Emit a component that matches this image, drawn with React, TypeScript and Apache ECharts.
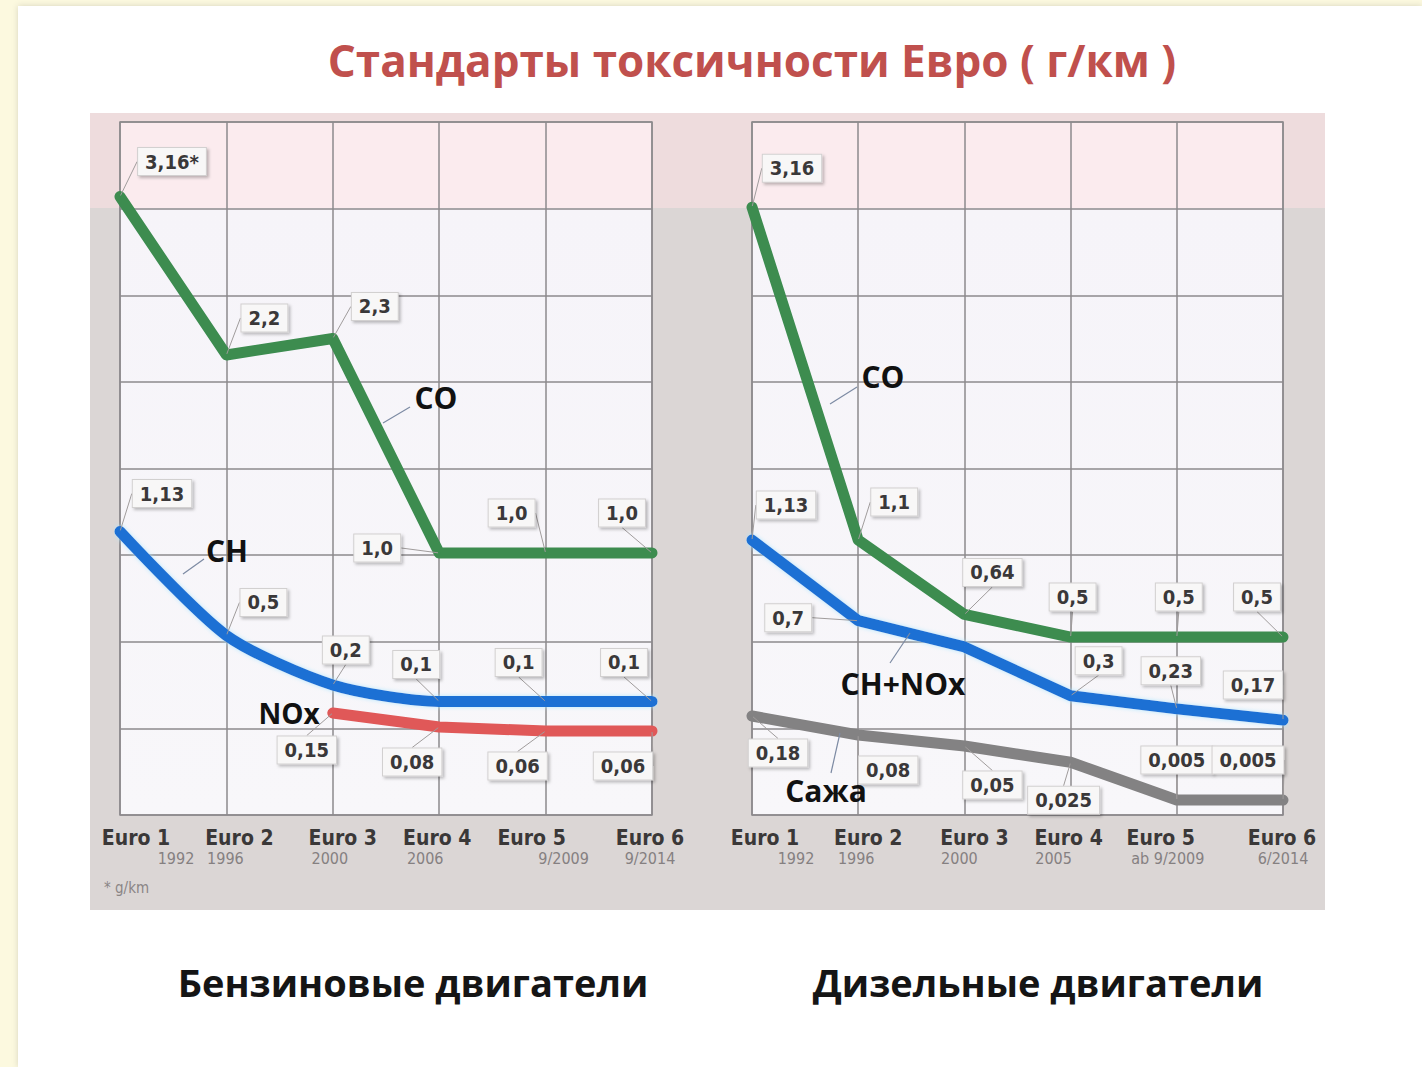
import React, { useEffect, useRef } from 'react';
import * as echarts from 'echarts';

// ---------- data ----------
const categories = ['Euro 1', 'Euro 2', 'Euro 3', 'Euro 4', 'Euro 5', 'Euro 6'];
const petrolYears = ['1992', '1996', '2000', '2006', '9/2009', '9/2014'];
const dieselYears = ['1992', '1996', '2000', '2005', 'ab 9/2009', '6/2014'];

const petrolCO = [3.16, 2.2, 2.3, 1.0, 1.0, 1.0];
const petrolCOLabels = ['3,16*', '2,2', '2,3', '1,0', '1,0', '1,0'];
const petrolCH = [1.13, 0.5, 0.2, 0.1, 0.1, 0.1];
const petrolCHLabels = ['1,13', '0,5', '0,2', '0,1', '0,1', '0,1'];
const petrolNOx = [null, null, 0.15, 0.08, 0.06, 0.06];
const petrolNOxLabels = ['', '', '0,15', '0,08', '0,06', '0,06'];

const dieselCO = [3.16, 1.1, 0.64, 0.5, 0.5, 0.5];
const dieselCOLabels = ['3,16', '1,1', '0,64', '0,5', '0,5', '0,5'];
const dieselCHNOx = [1.13, 0.7, 0.56, 0.3, 0.23, 0.17];
const dieselCHNOxLabels = ['1,13', '0,7', '', '0,3', '0,23', '0,17'];
const dieselSoot = [0.18, 0.08, 0.05, 0.025, 0.005, 0.005];
const dieselSootLabels = ['0,18', '0,08', '0,05', '0,025', '0,005', '0,005'];

// ---------- layout (label offsets, px) ----------
const offPetrolCO = [[52, -35], [38, -37], [42, -32], [-62, -5], [-34, -40], [-30, -40]];
const offPetrolCH = [[42, -38], [37, -33], [13, -35], [-23, -37], [-27, -39], [-28, -39]];
const offPetrolNOx = [[0, 0], [0, 0], [-26, 37], [-27, 35], [-28, 35], [-29, 35]];
const offDieselCO = [[40, -39], [36, -38], [28, -42], [2, -40], [2, -40], [-26, -40]];
const offDieselCHNOx = [[34, -35], [-70, -3], [0, 0], [28, -35], [-6, -38], [-30, -35]];
const offDieselSoot = [[26, 37], [30, 35], [28, 39], [-7, 38], [0, -40], [-35, -40]];

const petrolEuroShift = [16, 13, 10, -2, -14, -2];
const petrolYearShift = [56, -1, -3, -14, 18, -2];
const dieselEuroShift = [13, 10, 10, -2, -16, -1];
const dieselYearShift = [44, -2, -5, -17, -9, 0];

const NARROW = '"Liberation Sans Narrow", "Arial Narrow", "DejaVu Sans Condensed", sans-serif';
const SANS = '"Open Sans", "Noto Sans", "DejaVu Sans", sans-serif';
const GRIDLINE = '#8d8a8c';

function pad(dx: number) {
  return dx >= 0 ? [0, 0, 0, 2 * dx] : [0, -2 * dx, 0, 0];
}

function xAxisFor(gridIndex: number, years: string[], euroShift: number[], yearShift: number[]) {
  const rich: any = {};
  categories.forEach((_, i) => {
    rich['e' + i] = {
      fontFamily: NARROW, fontWeight: 'bold', fontSize: 21, color: '#3a3838',
      lineHeight: 23, padding: pad(euroShift[i]),
    };
    rich['y' + i] = {
      fontFamily: NARROW, fontSize: 16, color: '#858081',
      lineHeight: 19, padding: pad(yearShift[i]),
    };
  });
  return {
    gridIndex, type: 'category', boundaryGap: false, data: categories,
    axisLine: { show: false }, axisTick: { show: false },
    splitLine: { show: true, lineStyle: { color: GRIDLINE, width: 1.5 } },
    axisLabel: {
      margin: 11, interval: 0,
      formatter: (v: string, i: number) => `{e${i}|${v}}\n{y${i}|${years[i]}}`,
      rich,
    },
  };
}

function lineSeries(name: string, xi: number, yi: number, values: any[], labels: string[],
  offsets: number[][], color: string, smooth: number | boolean = false, glow = 'rgba(255,255,255,0)') {
  return {
    name, type: 'line', xAxisIndex: xi, yAxisIndex: yi,
    data: values.map((v, i) => (labels[i] ? v : { value: v, label: { show: false }, labelLine: { show: false } })),
    symbol: 'circle', symbolSize: 2, showSymbol: true,
    itemStyle: { color },
    smooth,
    lineStyle: { color, width: 11, cap: 'round', join: 'round', shadowColor: glow, shadowBlur: 4 },
    label: {
      show: true, position: 'inside',
      formatter: (p: any) => labels[p.dataIndex],
      fontFamily: NARROW, fontWeight: 'bold', fontSize: 20, color: '#3a3839',
      backgroundColor: '#f8f7f7', borderColor: '#d2d0d0', borderWidth: 1,
      padding: [4, 7, 3, 7],
      shadowColor: 'rgba(0,0,0,0.25)', shadowBlur: 3, shadowOffsetX: 2, shadowOffsetY: 2,
    },
    labelLayout: (p: any) => ({ dx: offsets[p.dataIndex][0], dy: offsets[p.dataIndex][1] }),
    labelLine: { show: true, lineStyle: { color: '#a09c9c', width: 1 } },
    z: 3,
  };
}

function text(x: number, y: number, t: string, size: number, fill: string, family = SANS, weight: any = 'bold', align = 'center') {
  return {
    type: 'text', x, y, z: 100,
    style: { text: t, fontSize: size, fontFamily: family, fontWeight: weight, fill, align, verticalAlign: 'middle' },
  };
}

function leader(x1: number, y1: number, x2: number, y2: number) {
  return { type: 'line', z: 50, shape: { x1, y1, x2, y2 }, style: { stroke: '#7c8aa3', lineWidth: 1.2 } };
}

const plotBg = {
  type: 'linear', x: 0, y: 0, x2: 0, y2: 1,
  colorStops: [
    { offset: 0, color: '#fbebee' }, { offset: 0.124, color: '#fbebee' },
    { offset: 0.125, color: '#f6f4f9' }, { offset: 1, color: '#f8f7fa' },
  ],
};

export default function App() {
  const ref = useRef<HTMLDivElement>(null);
  useEffect(() => {
    const chart = echarts.init(ref.current!, null, { renderer: 'svg' });
    chart.setOption({
      animation: false,
      backgroundColor: '#fcf9df',
      grid: [
        { left: 120, top: 122, width: 532, height: 693, show: true, backgroundColor: plotBg, borderColor: GRIDLINE, borderWidth: 1.5 },
        { left: 752, top: 122, width: 531, height: 693, show: true, backgroundColor: plotBg, borderColor: GRIDLINE, borderWidth: 1.5 },
      ],
      xAxis: [
        xAxisFor(0, petrolYears, petrolEuroShift, petrolYearShift),
        xAxisFor(1, dieselYears, dieselEuroShift, dieselYearShift),
      ],
      yAxis: [
        { gridIndex: 0, type: 'value', min: 0, max: 8, interval: 1, axisLabel: { show: false }, axisLine: { show: false }, axisTick: { show: false }, splitLine: { show: true, lineStyle: { color: GRIDLINE, width: 1.5 } } },
        { gridIndex: 0, type: 'value', min: -0.588, max: 3.612, show: false, splitLine: { show: false } },
        { gridIndex: 0, type: 'value', min: -0.36, max: 3.105, show: false, splitLine: { show: false } },
        { gridIndex: 1, type: 'value', min: 0, max: 8, interval: 1, axisLabel: { show: false }, axisLine: { show: false }, axisTick: { show: false }, splitLine: { show: true, lineStyle: { color: GRIDLINE, width: 1.5 } } },
        { gridIndex: 1, type: 'value', min: -0.601, max: 3.687, show: false, splitLine: { show: false } },
        { gridIndex: 1, type: 'value', min: -0.336, max: 3.359, show: false, splitLine: { show: false } },
        { gridIndex: 1, type: 'log', logBase: 10, min: 0.002642, max: 1.8e10, show: false, splitLine: { show: false } },
      ],
      series: [
        lineSeries('CO (бензин)', 0, 1, petrolCO, petrolCOLabels, offPetrolCO, '#3c8c50'),
        lineSeries('CH (бензин)', 0, 1, petrolCH, petrolCHLabels, offPetrolCH, '#1f70d4', 0.25, 'rgba(170,230,255,0.9)'),
        lineSeries('NOx (бензин)', 0, 2, petrolNOx, petrolNOxLabels, offPetrolNOx, '#e05858'),
        lineSeries('CO (дизель)', 1, 4, dieselCO, dieselCOLabels, offDieselCO, '#3c8c50'),
        lineSeries('CH+NOx (дизель)', 1, 5, dieselCHNOx, dieselCHNOxLabels, offDieselCHNOx, '#1f70d4', false, 'rgba(170,230,255,0.9)'),
        lineSeries('Сажа (дизель)', 1, 6, dieselSoot, dieselSootLabels, offDieselSoot, '#838283'),
      ],
      graphic: [
        { type: 'rect', z: -20, shape: { x: 18, y: 6, width: 1404, height: 1061 }, style: { fill: '#ffffff', shadowBlur: 6, shadowColor: 'rgba(0,0,0,0.15)' } },
        { type: 'rect', z: -15, shape: { x: 90, y: 113, width: 1235, height: 797 }, style: { fill: '#dbd6d5' } },
        { type: 'rect', z: -14, shape: { x: 90, y: 113, width: 1235, height: 95 }, style: { fill: '#eedcdd' } },
        text(752, 60, 'Стандарты токсичности Евро ( г/км )', 44, '#c0504d', SANS, 'bold'),
        text(413, 982, 'Бензиновые двигатели', 38, '#151515'),
        text(1038, 982, 'Дизельные двигатели', 38, '#151515'),
        text(104, 888, '* g/km', 15, '#8a8585', NARROW, 'normal', 'left'),
        text(436, 397, 'CO', 30, '#111111'),
        text(227, 550, 'CH', 30, '#111111'),
        text(289, 713, 'NOx', 28, '#111111'),
        text(883, 376, 'CO', 30, '#111111'),
        text(903, 683, 'CH+NOx', 30, '#111111'),
        text(826, 790, 'Сажа', 30, '#111111'),
        leader(831, 773, 840, 733),
        leader(383, 423, 410, 407),
        leader(183, 574, 204, 559),
        leader(830, 404, 857, 387),
        leader(890, 663, 910, 633),
      ],
    });
    return () => chart.dispose();
  }, []);
  return <div ref={ref} style={{ position: 'fixed', left: 0, top: 0, width: 1422, height: 1067 }} />;
}
